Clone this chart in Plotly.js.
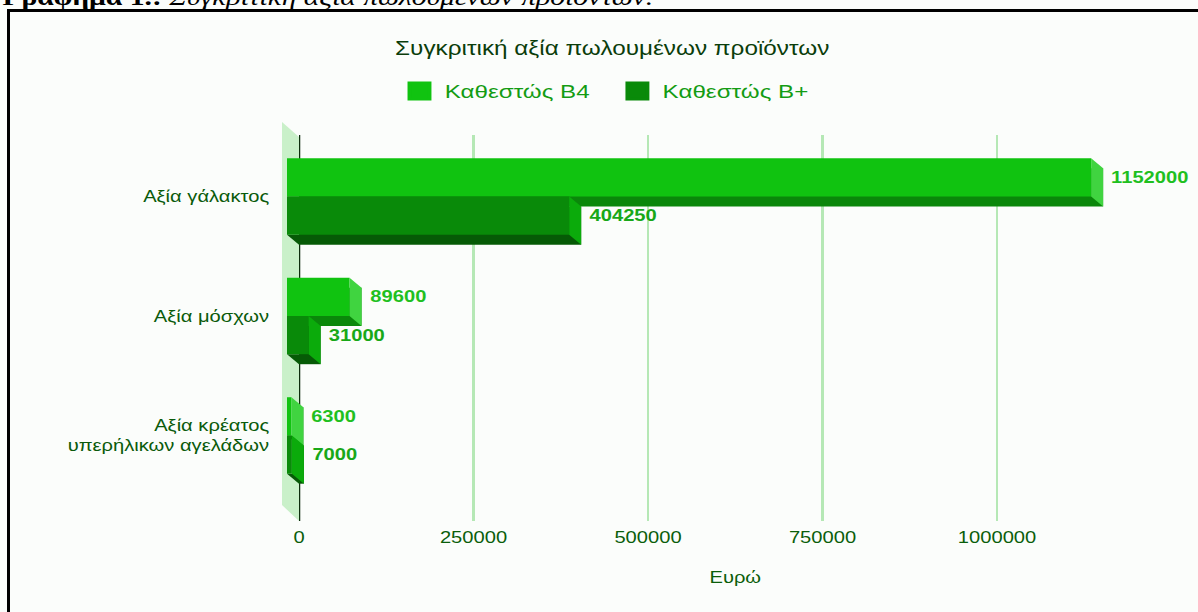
<!DOCTYPE html>
<html>
<head>
<meta charset="utf-8">
<script src="https://cdn.plot.ly/plotly-3.0.1.min.js"></script>
<style>
  html, body { margin: 0; padding: 0; background: #ffffff; overflow: hidden; }
  #wrap { position: relative; width: 1198px; height: 612px; overflow: hidden; }
  #chart { position: absolute; left: 0; top: 0; width: 951px; height: 612px; transform-origin: 0 0; }
  #frame { position: absolute; left: 7px; top: 9px; width: 1300px; height: 700px; border: 3px solid #000; box-sizing: border-box; pointer-events: none; }
</style>
</head>
<body>
<div id="wrap">
  <div id="chart"></div>
  <div id="frame"></div>
</div>
<script>
// ---------------- data ----------------
const categories = ['Αξία γάλακτος', 'Αξία μόσχων', 'Αξία κρέατος<br>υπερήλικων αγελάδων'];
const seriesNames = ['Καθεστώς Β4', 'Καθεστώς Β+'];
const valuesB4 = [1152000, 89600, 6300];
const valuesBplus = [404250, 31000, 7000];
const xTickVals = [0, 250000, 500000, 750000, 1000000, 1250000];
const xTickText = ['0', '250000', '500000', '750000', '1000000', ''];
const chartTitle = 'Συγκριτική αξία πωλουμένων προϊόντων';
const xAxisTitle = 'Ευρώ';
const captionBold = 'Γράφημα 1.:';
const captionItalic = ' Συγκριτική αξία πωλουμένων προϊόντων.';

// ---------------- geometry / style ----------------
const W = 951, H = 612, S = 1198 / W;
const M = {l: 220, r: 21, t: 125, b: 91};
const areaW = W - M.l - M.r, areaH = H - M.t - M.b;
const depthX = 12 / S, depthY = 10;
const x0px = 299 / S;                    // pixel of x=0 on back plane
const xDom = [(x0px - M.l) / areaW, 1];
const x2Dom = [(x0px - depthX - M.l) / areaW, 1 - depthX / areaW];
const yDom = [0, (areaH - depthY) / areaH];
const y2Dom = [depthY / areaH, 1];
const yRange = [2.632, -0.598];
const xRange = [0, 1250000];
const bargap = 0.36;
const unitPx = (areaH - depthY) / (yRange[0] - yRange[1]);
const barW = (1 - bargap) / 2;
const halfH = barW / 2 * unitPx;

const FONT = 'Liberation Sans, Arial, sans-serif';
const col = {
  b4: {front: '#10c310', side: '#40d440', bottom: '#0a870a', label: '#1fc01f'},
  bp: {front: '#098a09', side: '#0bab0b', bottom: '#065a06', label: '#18a818'}
};

const series = [
  {name: seriesNames[0], vals: valuesB4, c: col.b4, off: -barW / 2},
  {name: seriesNames[1], vals: valuesBplus, c: col.bp, off: barW / 2}
];

const traces = [];
// back planes (bottom faces)
series.forEach(s => traces.push({
  type: 'bar', orientation: 'h', x: s.vals, y: categories, name: s.name,
  xaxis: 'x', yaxis: 'y', marker: {color: s.c.bottom, line: {width: 0}},
  showlegend: false, hoverinfo: 'skip'
}));
// front faces
series.forEach(s => traces.push({
  type: 'bar', orientation: 'h', x: s.vals, y: categories, name: s.name,
  xaxis: 'x2', yaxis: 'y2', marker: {color: s.c.front, line: {width: 0}},
  showlegend: false
}));
// legend entries
series.forEach(s => traces.push({
  type: 'scatter', mode: 'markers', x: [null], y: [null], name: s.name,
  xaxis: 'x2', yaxis: 'y2',
  marker: {symbol: 'square', size: 16, color: s.c.front, line: {width: 3, color: s.c.front}},
  showlegend: true, hoverinfo: 'skip'
}));

const shapes = [];
// side wall
shapes.push({
  type: 'path', layer: 'below', xref: 'paper', yref: 'paper',
  xsizemode: 'pixel', ysizemode: 'pixel', xanchor: xDom[0], yanchor: 0,
  path: `M ${-13.5},${16} L 0,0 L 0,${areaH - depthY - 2} L ${-13.5},${areaH - depthY + 13} Z`,
  fillcolor: '#c9f0c9', line: {width: 0}
});
// zero line
shapes.push({
  type: 'line', layer: 'between', xref: 'x', yref: 'y',
  x0: 0, x1: 0, y0: yRange[0], y1: yRange[1],
  line: {color: '#0d2d0d', width: 2}
});
series.forEach(s => {
  s.vals.forEach((v, i) => {
    const yc = i + s.off;
    shapes.push({
      type: 'path', layer: 'between', xref: 'x2', yref: 'y2',
      xsizemode: 'pixel', ysizemode: 'pixel', xanchor: 0, yanchor: yc,
      path: `M 0,${-halfH} L ${depthX},${-halfH} L ${depthX},${-halfH - depthY} Z`,
      fillcolor: s.c.bottom, line: {width: 0}
    });
    shapes.push({
      type: 'path', layer: 'above', xref: 'x2', yref: 'y2',
      xsizemode: 'pixel', ysizemode: 'pixel', xanchor: v, yanchor: yc,
      path: `M 0,${halfH} L ${depthX},${halfH - depthY} L ${depthX},${-halfH - depthY} L 0,${-halfH} Z`,
      fillcolor: s.c.side, line: {width: 0}
    });
  });
});

const annotations = [];
series.forEach(s => s.vals.forEach((v, i) => annotations.push({
  xref: 'x', yref: 'y2', x: v, y: i + s.off, xanchor: 'left', yanchor: 'middle',
  xshift: 4.5, text: String(v), showarrow: false,
  font: {family: FONT, size: 16, color: s.c.label, weight: 'bold'}
})));
annotations.push({
  xref: 'paper', yref: 'paper', x: (0 - M.l) / areaW, y: (areaH + M.t - 12) / areaH,
  xanchor: 'left', yanchor: 'bottom', showarrow: false,
  text: '<b>' + captionBold + '</b><i>' + captionItalic + '</i>',
  font: {family: 'Liberation Serif, Times New Roman, serif', size: 23.5, color: '#000'}
});

const axBase = {showgrid: false, zeroline: false, showline: false, fixedrange: true};
const layout = {
  width: W, height: H, margin: M,
  paper_bgcolor: '#fbfdfb', plot_bgcolor: 'rgba(0,0,0,0)',
  font: {family: FONT},
  barmode: 'group', bargap: bargap, bargroupgap: 0,
  title: {text: chartTitle, font: {family: FONT, size: 19.3, color: '#0b3d0b'},
          xref: 'container', x: 486 / W, xanchor: 'center', yref: 'container', y: 1 - 48 / H, yanchor: 'middle'},
  legend: {orientation: 'h', xref: 'container', x: 486 / W, xanchor: 'center',
           yref: 'container', y: 1 - 91 / H, yanchor: 'middle', entrywidth: 128, entrywidthmode: 'pixels',
           font: {family: FONT, size: 19.2, color: '#139c13'}, bgcolor: 'rgba(0,0,0,0)'},
  xaxis: Object.assign({}, axBase, {
    domain: xDom, range: xRange, anchor: 'y',
    showgrid: true, gridcolor: '#b5e8b5', gridwidth: 2,
    tickmode: 'array', tickvals: xTickVals, ticktext: xTickText,
    ticks: 'outside', ticklen: 2, tickcolor: 'rgba(0,0,0,0)',
    tickfont: {family: FONT, size: 16, color: '#0a5e0a'},
    title: {text: xAxisTitle, standoff: 26, font: {family: FONT, size: 16, color: '#0a5e0a'}},
    automargin: false
  }),
  yaxis: Object.assign({}, axBase, {
    domain: yDom, range: yRange, anchor: 'x', type: 'category', showticklabels: false
  }),
  xaxis2: Object.assign({}, axBase, {
    domain: x2Dom, range: xRange, anchor: 'y2', showticklabels: false
  }),
  yaxis2: Object.assign({}, axBase, {
    domain: y2Dom, range: yRange, anchor: 'x2', type: 'category',
    ticks: 'outside', ticklen: 10, tickcolor: 'rgba(0,0,0,0)',
    tickfont: {family: FONT, size: 16, color: '#0a5a0a'}, automargin: false
  }),
  shapes: shapes, annotations: annotations, hovermode: false
};

const el = document.getElementById('chart');
el.style.transform = 'scaleX(' + S + ')';
Plotly.newPlot(el, traces, layout, {displayModeBar: false, staticPlot: true});
</script>
</body>
</html>
